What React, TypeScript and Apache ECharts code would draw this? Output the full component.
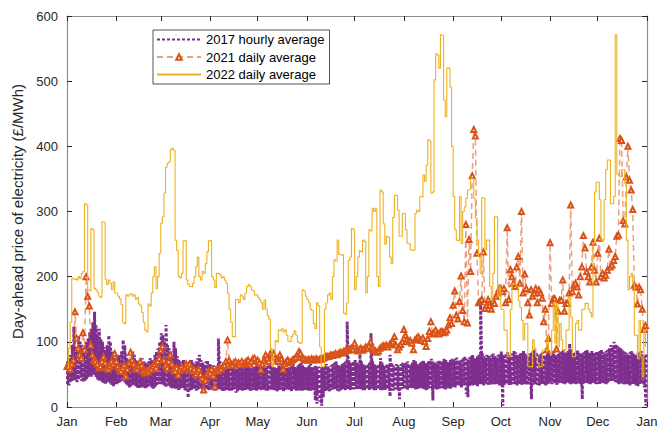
import React, { useEffect, useRef } from 'react';
import * as echarts from 'echarts';

const monthLabels = ['Jan', 'Feb', 'Mar', 'Apr', 'May', 'Jun', 'Jul', 'Aug', 'Sep', 'Oct', 'Nov', 'Dec', 'Jan'];
const monthStartDays = [0, 31, 59, 90, 120, 151, 181, 212, 243, 273, 304, 334, 365];
const yTickStep = 100;
const yMax = 600;

// 2022 daily average (£/MWh), day 0 = 1 Jan
const price2022 = [
  60, 90, 130, 198, 196, 197, 195, 200, 197, 205,
  208, 312, 310, 180, 178, 274, 272, 182, 180, 176,
  170, 168, 284, 283, 196, 188, 195, 190, 180, 192,
  175, 174, 170, 166, 157, 130, 128, 172, 170, 173,
  174, 170, 172, 165, 168, 158, 155, 145, 130, 118,
  115, 158, 155, 175, 200, 215, 182, 200, 236, 282,
  292, 328, 368, 374, 376, 395, 397, 394, 256, 240,
  200, 198, 205, 255, 256, 195, 188, 185, 184, 190,
  200, 215, 230, 200, 195, 208, 205, 220, 238, 255,
  256, 200, 195, 183, 205, 205, 203, 198, 200, 195,
  190, 175, 150, 130, 108, 108, 165, 165, 160, 172,
  170, 165, 175, 185, 188, 185, 180, 178, 172, 172,
  168, 165, 160, 150, 164, 150, 140, 135, 90, 62,
  80, 102, 100, 118, 117, 120, 115, 118, 110, 101,
  100, 108, 112, 117, 110, 100, 98, 98, 180, 178,
  170, 165, 160, 150, 148, 128, 120, 160, 155, 92,
  62, 62, 150, 160, 172, 175, 165, 200, 226, 224,
  256, 234, 233, 234, 144, 142, 160, 225, 230, 274,
  272, 180, 200, 230, 240, 238, 256, 254, 175, 200,
  272, 270, 305, 300, 305, 200, 185, 333, 330, 281,
  250, 262, 260, 230, 220, 291, 325, 324, 302, 262,
  262, 297, 296, 272, 251, 250, 241, 240, 241, 297,
  302, 300, 323, 322, 356, 346, 371, 410, 408, 328,
  330, 502, 542, 540, 520, 571, 570, 471, 445, 520,
  520, 491, 400, 323, 272, 256, 255, 323, 251, 300,
  307, 320, 333, 334, 351, 350, 320, 290, 256, 230,
  205, 321, 320, 241, 256, 256, 185, 163, 205, 292,
  292, 170, 185, 150, 150, 118, 118, 77, 77, 150,
  190, 190, 188, 185, 163, 153, 133, 103, 128, 128,
  62, 62, 62, 103, 90, 77, 67, 62, 62, 87,
  87, 87, 110, 87, 80, 118, 159, 98, 159, 92,
  128, 103, 87, 87, 118, 118, 169, 138, 77, 77,
  128, 133, 118, 118, 150, 150, 159, 159, 150, 145,
  138, 251, 330, 345, 345, 318, 256, 256, 318, 364,
  379, 379, 312, 312, 323, 571, 358, 355, 353, 364,
  364, 343, 256, 180, 200, 205, 190, 110, 110, 74,
  133, 77, 46, 118, 92,
];

// 2021 daily average (£/MWh)
const price2021 = [
  // Jan
  62, 65, 58, 66, 72, 146, 106, 90, 80, 75, 114, 88, 200, 170, 155, 95, 80, 72, 70, 66,
  60, 62, 70, 77, 68, 60, 58, 62, 70, 66, 82,
  // Feb
  70, 62, 58, 55, 60, 64, 47, 58, 68, 84, 72, 66, 60, 58, 62, 70, 64, 55, 52, 56,
  54, 60, 58, 62, 66, 60, 70, 75,
  // Mar
  87, 93, 72, 64, 60, 70, 80, 66, 58, 55, 60, 49, 56, 62, 58, 60, 66, 62, 66, 60,
  55, 58, 50, 54, 58, 50, 44, 26, 41, 50, 55,
  // Apr
  52, 58, 48, 31, 57, 55, 60, 58, 62, 64, 70, 103, 72, 66, 64, 68, 70, 66, 68, 65,
  70, 66, 68, 70, 72, 66, 70, 74, 75, 70,
  // May
  72, 68, 57, 66, 72, 80, 75, 70, 82, 78, 82, 76, 72, 70, 80, 74, 58, 66, 70, 72,
  68, 70, 72, 74, 76, 80, 85, 82, 76, 74, 72,
  // Jun
  72, 73, 72, 74, 72, 73, 74, 72, 73, 75, 74, 76, 78, 77, 78, 80, 79, 80, 82, 80,
  82, 84, 83, 85, 86, 88, 87, 89, 90, 88,
  // Jul
  98, 88, 86, 88, 90, 87, 89, 92, 90, 94, 100, 92, 88, 86, 84, 86, 90, 92, 94, 93,
  95, 92, 96, 98, 100, 108, 95, 88, 92, 96, 100,
  // Aug
  119, 110, 104, 100, 102, 98, 88, 103, 105, 108, 104, 102, 106, 100, 93, 105, 116, 131, 112, 114,
  118, 113, 112, 115, 116, 114, 115, 118, 126, 137, 128,
  // Sep
  156, 178, 141, 135, 162, 201, 148, 131, 280, 129, 257, 208, 355, 426, 416, 236, 160, 162, 165, 238,
  151, 156, 165, 156, 150, 162, 159, 170, 175, 182,
  // Oct
  182, 177, 182, 160, 275, 165, 211, 200, 190, 185, 215, 231, 190, 300, 175, 204, 182, 160, 141, 180,
  170, 175, 182, 160, 180, 175, 167, 131, 150, 88, 105,
  // Nov
  252, 159, 166, 166, 89, 147, 164, 164, 195, 147, 159, 159, 175, 310, 177, 187, 190, 184, 172, 200,
  215, 263, 244, 208, 200, 192, 215, 253, 210, 192,
  // Dec
  236, 259, 200, 205, 198, 202, 210, 242, 215, 218, 225, 231, 262, 264, 412, 409, 286, 281, 353, 400,
  348, 333, 303, 187, 184, 158, 184, 180, 150, 119, 125,
];

// 2017 hourly prices, summarised as each day's highest and lowest hour (£/MWh)
const high2017 = [
  70, 75, 80, 95, 123, 90, 85, 110, 100, 95, 88, 92, 100, 105, 115, 120, 130, 146, 125, 110,
  120, 105, 100, 92, 88, 95, 110, 100, 85, 80, 75,
  75, 80, 78, 85, 103, 95, 80, 72, 70, 75, 85, 80, 72, 70, 68, 72, 75, 70, 68, 66,
  70, 75, 72, 70, 80, 85, 90, 100,
  113, 110, 100, 126, 95, 90, 85, 80, 100, 90, 78, 72, 70, 68, 72, 70, 68, 65, 70, 72,
  68, 66, 70, 75, 80, 72, 68, 65, 70, 72, 66,
  65, 62, 64, 60, 62, 105, 70, 62, 60, 64, 62, 60, 58, 62, 64, 60, 58, 62, 65, 62,
  60, 58, 62, 64, 66, 60, 58, 62, 60, 64,
  62, 60, 64, 66, 60, 62, 65, 77, 64, 60, 62, 58, 60, 64, 62, 66, 70, 64, 60, 58,
  62, 64, 66, 62, 60, 64, 66, 68, 64, 62, 60,
  62, 64, 66, 60, 62, 64, 60, 62, 58, 62, 60, 64, 66, 62, 60, 64, 66, 68, 70, 66,
  64, 62, 66, 68, 70, 131, 72, 68, 66, 70,
  72, 68, 66, 85, 70, 66, 64, 62, 66, 68, 113, 70, 66, 64, 62, 66, 75, 68, 64, 62,
  66, 64, 80, 68, 64, 62, 66, 64, 62, 66, 68,
  66, 68, 70, 66, 64, 68, 72, 70, 66, 64, 68, 70, 72, 68, 66, 70, 72, 74, 70, 68,
  66, 70, 72, 68, 70, 74, 72, 70, 68, 72, 74,
  72, 74, 76, 72, 70, 74, 76, 78, 74, 72, 76, 78, 80, 76, 74, 78, 80, 160, 82, 78,
  76, 80, 78, 76, 80, 82, 78, 76, 80, 82,
  85, 80, 78, 82, 84, 80, 78, 82, 86, 84, 80, 78, 82, 84, 86, 82, 80, 78, 82, 84,
  86, 88, 84, 80, 78, 82, 84, 80, 78, 82, 84,
  82, 84, 86, 80, 78, 82, 84, 86, 88, 84, 82, 86, 97, 88, 84, 82, 86, 88, 84, 80,
  82, 84, 86, 88, 84, 82, 86, 84, 82, 86,
  84, 86, 88, 84, 82, 86, 88, 90, 95, 92, 100, 96, 94, 92, 90, 88, 86, 84, 82, 80,
  84, 86, 82, 80, 78, 82, 84, 86, 80, 78, 82,
];

const low2017 = [
  35, 33, 38, 40, 42, 40, 38, 42, 45, 40, 38, 40, 42, 45, 48, 45, 50, 48, 45, 42,
  40, 42, 38, 36, 35, 38, 40, 36, 34, 32, 35,
  35, 36, 38, 40, 42, 38, 35, 33, 30, 32, 35, 34, 32, 30, 28, 30, 32, 30, 28, 30,
  32, 34, 30, 28, 30, 32, 35, 36,
  35, 34, 32, 30, 33, 32, 30, 28, 30, 28, 27, 26, 28, 30, 28, 26, 25, 14, 24, 26,
  28, 27, 25, 26, 28, 30, 27, 26, 28, 27, 25,
  28, 27, 26, 25, 26, 28, 27, 26, 24, 25, 26, 27, 25, 24, 26, 28, 22, 24, 26, 27,
  25, 24, 26, 28, 27, 25, 24, 26, 27, 25,
  27, 26, 25, 28, 26, 24, 25, 27, 26, 28, 26, 25, 24, 26, 27, 25, 24, 26, 28, 27,
  25, 24, 26, 27, 25, 24, 26, 25, 24, 26, 27,
  26, 25, 24, 26, 27, 10, 5, 20, 8, 2, 15, 24, 25, 26, 24, 26, 27, 28, 26, 25,
  24, 26, 28, 27, 26, 28, 27, 26, 28, 27,
  28, 27, 26, 28, 27, 26, 25, 27, 28, 26, 27, 28, 26, 25, 27, 28, 26, 25, 27, 26,
  28, 27, 16, 26, 25, 27, 28, 26, 12, 27, 28,
  28, 27, 26, 28, 30, 29, 28, 27, 26, 28, 30, 29, 28, 27, 26, 28, 30, 29, 10, 28,
  27, 26, 28, 30, 29, 28, 27, 30, 29, 28, 30,
  32, 30, 33, 34, 32, 30, 33, 35, 20, 15, 32, 34, 33, 35, 34, 32, 36, 35, 34, 33,
  36, 35, 34, 33, 36, 35, 34, 36, 35, 33,
  35, 2, 34, 36, 35, 33, 34, 36, 35, 34, 33, 36, 35, 34, 36, 35, 34, 33, 35, 12,
  34, 36, 35, 34, 33, 35, 36, 34, 33, 35, 36,
  36, 35, 37, 36, 34, 36, 38, 37, 36, 35, 37, 38, 36, 35, 37, 36, 35, 37, 36, 35,
  12, 36, 38, 37, 36, 35, 37, 38, 36, 35,
  36, 35, 37, 38, 36, 35, 37, 38, 40, 42, 40, 38, 36, 35, 37, 36, 35, 34, 36, 35,
  33, 34, 36, 35, 33, 32, 34, 36, 35, 30, 2,
];

const FONT = '"Liberation Sans", Arial, Helvetica, sans-serif';
const AX = '#262626';
const BOX = '#8f8f8f';

export default function App() {
  const ref = useRef<HTMLDivElement>(null);

  useEffect(() => {
    if (!ref.current) return;
    const chart = echarts.init(ref.current, undefined, { renderer: 'svg' });

    const d2022 = price2022.map((v, i) => [i, v]);
    const d2021 = price2021.map((v, i) => [i, v]);
    const d2017: number[][] = [];
    for (let i = 0; i < low2017.length; i++) {
      d2017.push([i + 0.3, low2017[i]]);
      d2017.push([i + 0.3, high2017[i]]);
    }

    const xCommon = {
      type: 'value' as const,
      min: 0,
      max: 365,
      axisLine: { show: true, onZero: false, lineStyle: { color: BOX, width: 1.2 } },
      axisTick: { show: true, inside: true, length: 5, customValues: monthStartDays, lineStyle: { color: AX } },
      splitLine: { show: false },
    };
    const yCommon = {
      type: 'value' as const,
      min: 0,
      max: yMax,
      interval: yTickStep,
      axisLine: { show: true, onZero: false, lineStyle: { color: BOX, width: 1.2 } },
      axisTick: { show: true, inside: true, length: 5, lineStyle: { color: AX } },
      splitLine: { show: false },
    };

    chart.setOption({
      animation: false,
      backgroundColor: '#ffffff',
      grid: { left: 67, right: 20, top: 16, bottom: 27 },
      legend: {
        left: 153,
        top: 30,
        orient: 'vertical',
        itemWidth: 44,
        itemHeight: 7,
        itemGap: 4.5,
        padding: [3, 5, 3, 3],
        borderColor: AX,
        borderWidth: 0.8,
        backgroundColor: '#ffffff',
        textStyle: { fontSize: 13, color: '#000', fontFamily: FONT },
        data: [
          { name: '2017 hourly average', itemStyle: { opacity: 0 } },
          { name: '2021 daily average' },
          { name: '2022 daily average', itemStyle: { opacity: 0 } },
        ],
      },
      xAxis: [
        {
          ...xCommon,
          position: 'bottom',
          axisLabel: {
            customValues: monthStartDays,
            formatter: (v: number) => monthLabels[monthStartDays.indexOf(Math.round(v))] ?? '',
            color: AX,
            fontSize: 13,
            fontFamily: FONT,
            margin: 8,
          },
        },
        { ...xCommon, position: 'top', axisLabel: { show: false } },
      ],
      yAxis: [
        {
          ...yCommon,
          position: 'left',
          name: 'Day-ahead price of electricity (£/MWh)',
          nameLocation: 'middle',
          nameGap: 33,
          nameTextStyle: { fontSize: 15, color: AX, fontFamily: FONT },
          axisLabel: { color: AX, fontSize: 13, fontFamily: FONT, margin: 9 },
        },
        { ...yCommon, position: 'right', axisLabel: { show: false } },
      ],
      series: [
        {
          name: '2017 hourly average',
          type: 'line',
          data: d2017,
          symbol: 'none',
          showSymbol: false,
          z: 1,
          lineStyle: { color: '#7E2F8E', width: 3, type: [3, 2] },
          itemStyle: { color: '#7E2F8E' },
        },
        {
          name: '2021 daily average',
          type: 'line',
          data: d2021,
          symbol: 'triangle',
          symbolSize: 5,
          showSymbol: true,
          z: 2,
          lineStyle: { color: '#D95319', opacity: 0.55, width: 1.5, type: [6, 4] },
          itemStyle: { color: '#ffffff', borderColor: '#D95319', borderWidth: 2 },
        },
        {
          name: '2022 daily average',
          type: 'line',
          step: 'end',
          data: d2022,
          symbol: 'none',
          showSymbol: false,
          z: 3,
          lineStyle: { color: '#EDB120', width: 1.1 },
          itemStyle: { color: '#EDB120' },
        },
      ],
    });

    return () => chart.dispose();
  }, []);

  return (
    <div
      ref={ref}
      style={{ position: 'fixed', left: 0, top: 0, width: 667, height: 434, background: '#fff' }}
    />
  );
}
